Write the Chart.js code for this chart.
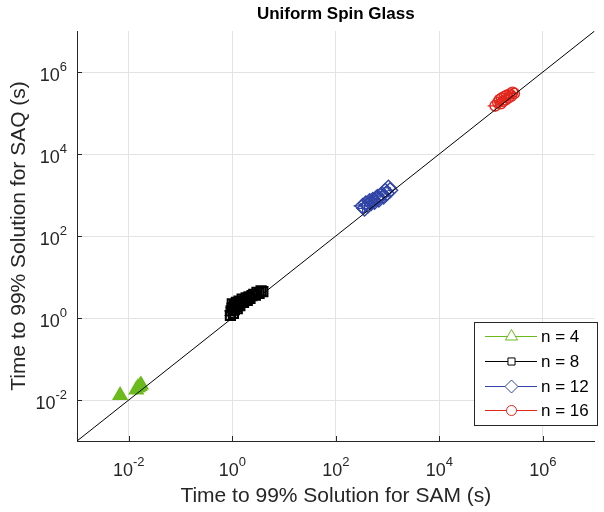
<!DOCTYPE html>
<html>
<head>
<meta charset="utf-8">
<script src="https://cdn.jsdelivr.net/npm/chart.js@4.4.0/dist/chart.umd.min.js"></script>
<style>
  html, body { margin: 0; padding: 0; background: #fff; }
  canvas { display: block; }
</style>
</head>
<body>
<canvas id="chart" width="604" height="512"></canvas>
<script>
const tickValues = [1e-2, 1e0, 1e2, 1e4, 1e6];
const tickExponents = ["-2", "0", "2", "4", "6"];
const seriesLabels = ["n = 4", "n = 8", "n = 12", "n = 16"];
const seriesColors = ["#6cbb1d", "#000000", "#3045a6", "#e3261c"];
const seriesMarkers = ["triangle", "rect", "rectRot", "circle"];
const seriesRadius = [8, 6.5, 7.5, 5.2];
const seriesLineWidth = [1.4, 2, 1.4, 1.4];
const legendRadius = [7, 5, 6.5, 5];

// n = 4
const n4SAM = [0.0068, 0.0140, 0.0150, 0.0162, 0.0172];
const n4SAQ = [0.0130, 0.0178, 0.0200, 0.0215, 0.0235];
const n4ErrSAM = [1.03, 1.03, 1.03, 1.03, 1.03];
const n4ErrSAQ = [1.03, 1.03, 1.03, 1.03, 1.03];

// n = 8
const n8SAM = [0.92, 0.95, 1.0, 1.0, 1.05, 1.1, 1.1, 1.15, 1.2, 1.25, 1.3, 1.35, 1.4, 1.5, 1.55, 1.65, 1.75, 1.85, 1.95, 2.1, 2.2, 2.4, 2.6, 2.8, 3.0, 3.3, 3.6, 3.9];
const n8SAQ = [1.15, 1.5, 1.8, 2.2, 1.3, 1.6, 2.1, 1.9, 2.4, 1.7, 2.2, 2.6, 2.0, 2.5, 2.9, 2.4, 2.8, 3.1, 2.7, 3.3, 3.0, 3.5, 3.8, 3.6, 4.2, 4.0, 4.6, 4.4];
const n8ErrSAM = [1.3, 1.35, 1.35, 1.3, 1.25, 1.2, 1.2, 1.12, 1.1, 1.1, 1.1, 1.08, 1.08, 1.08, 1.06, 1.06, 1.06, 1.06, 1.05, 1.05, 1.05, 1.05, 1.05, 1.05, 1.05, 1.05, 1.05, 1.05];
const n8ErrSAQ = [1.35, 1.1, 1.1, 1.1, 1.1, 1.08, 1.08, 1.08, 1.08, 1.06, 1.06, 1.06, 1.06, 1.06, 1.05, 1.05, 1.05, 1.05, 1.05, 1.05, 1.05, 1.05, 1.05, 1.05, 1.05, 1.05, 1.05, 1.05];

// n = 12
const n12SAM = [330, 360, 380, 420, 450, 480, 520, 560, 600, 640, 680, 720, 780, 840, 900, 960, 1040, 1120];
const n12SAQ = [540, 470, 620, 560, 700, 640, 760, 680, 820, 900, 780, 950, 1050, 920, 1250, 1100, 1500, 1300];
const n12ErrSAM = [1.5, 1.45, 1.3, 1.2, 1.15, 1.15, 1.12, 1.1, 1.1, 1.1, 1.1, 1.12, 1.12, 1.1, 1.12, 1.1, 1.12, 1.12];
const n12ErrSAQ = [1.5, 1.3, 1.2, 1.15, 1.12, 1.15, 1.12, 1.1, 1.1, 1.1, 1.1, 1.12, 1.15, 1.12, 1.1, 1.1, 1.12, 1.12];

// n = 16
const n16SAM = [1.2e5, 1.35e5, 1.45e5, 1.55e5, 1.6e5, 1.7e5, 1.8e5, 1.9e5, 2.0e5, 2.15e5, 2.3e5, 2.45e5, 2.6e5, 2.8e5];
const n16SAQ = [1.5e5, 1.8e5, 2.1e5, 1.7e5, 2.3e5, 1.95e5, 2.5e5, 2.1e5, 2.7e5, 2.35e5, 2.9e5, 2.6e5, 3.2e5, 3.0e5];
const n16ErrSAM = [1.4, 1.2, 1.15, 1.12, 1.1, 1.1, 1.1, 1.1, 1.1, 1.12, 1.12, 1.15, 1.15, 1.12];
const n16ErrSAQ = [1.4, 1.15, 1.12, 1.1, 1.1, 1.1, 1.1, 1.1, 1.1, 1.1, 1.1, 1.1, 1.1, 1.1];

const diagonal = [1e-3, 1e7];

const FONT = "'Liberation Sans', Arial, Helvetica, sans-serif";

function points(xs, ys) {
  return xs.map((x, i) => ({ x: x, y: ys[i] }));
}

function series(i, xs, ys, ex, ey) {
  return {
    label: seriesLabels[i],
    data: points(xs, ys),
    errX: ex,
    errY: ey,
    pointStyle: seriesMarkers[i],
    pointRadius: seriesRadius[i],
    pointHoverRadius: seriesRadius[i],
    pointBorderWidth: seriesLineWidth[i],
    borderColor: seriesColors[i],
    pointBorderColor: seriesColors[i],
    pointBackgroundColor: i === 0 ? seriesColors[0] : "rgba(0,0,0,0)",
    showLine: false
  };
}

const errorBars = {
  id: "errorBars",
  beforeDatasetsDraw(chart) {
    const ctx = chart.ctx;
    const xs = chart.scales.x, ys = chart.scales.y;
    const area = chart.chartArea;
    ctx.save();
    ctx.beginPath();
    ctx.rect(area.left, area.top, area.right - area.left, area.bottom - area.top);
    ctx.clip();
    ctx.lineWidth = 1.2;
    chart.data.datasets.forEach(ds => {
      if (!ds.errX) return;
      ctx.strokeStyle = ds.borderColor;
      ds.data.forEach((p, i) => {
        const px = xs.getPixelForValue(p.x), py = ys.getPixelForValue(p.y);
        const x0 = xs.getPixelForValue(p.x / ds.errX[i]), x1 = xs.getPixelForValue(p.x * ds.errX[i]);
        const y0 = ys.getPixelForValue(p.y / ds.errY[i]), y1 = ys.getPixelForValue(p.y * ds.errY[i]);
        ctx.beginPath();
        ctx.moveTo(x0, py); ctx.lineTo(x1, py);
        ctx.moveTo(px, y0); ctx.lineTo(px, y1);
        ctx.stroke();
      });
    });
    ctx.restore();
  }
};

const decorations = {
  id: "decorations",
  afterDraw(chart) {
    const ctx = chart.ctx;
    const xs = chart.scales.x, ys = chart.scales.y;
    const area = chart.chartArea;
    ctx.save();

    // inward ticks
    ctx.strokeStyle = "#262626";
    ctx.lineWidth = 1;
    ctx.beginPath();
    tickValues.forEach(v => {
      const px = Math.round(xs.getPixelForValue(v)) + 0.5;
      ctx.moveTo(px, area.bottom); ctx.lineTo(px, area.bottom - 5);
      const py = Math.round(ys.getPixelForValue(v)) + 0.5;
      ctx.moveTo(area.left, py); ctx.lineTo(area.left + 5, py);
    });
    ctx.stroke();

    // tick labels
    ctx.fillStyle = "#262626";
    tickValues.forEach((v, i) => {
      const exp = tickExponents[i];
      ctx.font = "18px " + FONT;
      const wBase = ctx.measureText("10").width;
      ctx.font = "13px " + FONT;
      const wExp = ctx.measureText(exp).width;
      // x axis
      const px = xs.getPixelForValue(v);
      const left = px - (wBase + wExp) / 2;
      ctx.textAlign = "left";
      ctx.textBaseline = "alphabetic";
      ctx.font = "18px " + FONT;
      ctx.fillText("10", left, 476);
      ctx.font = "13px " + FONT;
      ctx.fillText(exp, left + wBase, 466);
      // y axis
      const py = ys.getPixelForValue(v);
      const right = 67;
      ctx.font = "18px " + FONT;
      ctx.fillText("10", right - wExp - wBase, py + 9);
      ctx.font = "13px " + FONT;
      ctx.fillText(exp, right - wExp, py - 1);
    });

    // title and axis labels
    ctx.fillStyle = "#000";
    ctx.textAlign = "center";
    ctx.textBaseline = "middle";
    ctx.font = "bold 17px " + FONT;
    ctx.fillText("Uniform Spin Glass", (area.left + area.right) / 2, 14);
    ctx.fillStyle = "#262626";
    ctx.font = "21px " + FONT;
    ctx.fillText("Time to 99% Solution for SAM (s)", (area.left + area.right) / 2, 496);
    ctx.save();
    ctx.translate(19, (area.top + area.bottom) / 2);
    ctx.rotate(-Math.PI / 2);
    ctx.fillText("Time to 99% Solution for SAQ (s)", 0, 0);
    ctx.restore();

    // legend
    const bx = 474.5, by = 322.5, bw = 123, bh = 103;
    ctx.fillStyle = "#fff";
    ctx.fillRect(bx, by, bw, bh);
    ctx.strokeStyle = "#262626";
    ctx.lineWidth = 1;
    ctx.strokeRect(bx, by, bw, bh);
    const rows = [336.5, 361.5, 386.5, 410.5];
    seriesLabels.forEach((lab, i) => {
      const y = rows[i];
      ctx.strokeStyle = seriesColors[i];
      ctx.lineWidth = 1;
      ctx.beginPath();
      ctx.moveTo(485, y); ctx.lineTo(537, y);
      ctx.stroke();
      const opts = {
        pointStyle: seriesMarkers[i],
        radius: legendRadius[i],
        rotation: 0,
        borderWidth: 1,
        borderColor: seriesColors[i],
        backgroundColor: "#fff"
      };
      ctx.fillStyle = "#fff";
      ctx.strokeStyle = seriesColors[i];
      Chart.helpers.drawPoint(ctx, opts, 511.5, y);
      ctx.fillStyle = "#000";
      ctx.textAlign = "left";
      ctx.textBaseline = "middle";
      ctx.font = "17px " + FONT;
      ctx.fillText(lab, 541, y + 1);
    });

    ctx.restore();
  }
};

const ctx = document.getElementById("chart").getContext("2d");
new Chart(ctx, {
  type: "scatter",
  data: {
    datasets: [
      {
        label: "y = x",
        data: points(diagonal, diagonal),
        showLine: true,
        borderColor: "#000",
        borderWidth: 1,
        pointRadius: 0,
        pointHoverRadius: 0
      },
      series(0, n4SAM, n4SAQ, n4ErrSAM, n4ErrSAQ),
      series(1, n8SAM, n8SAQ, n8ErrSAM, n8ErrSAQ),
      series(2, n12SAM, n12SAQ, n12ErrSAM, n12ErrSAQ),
      series(3, n16SAM, n16SAQ, n16ErrSAM, n16ErrSAQ)
    ]
  },
  options: {
    responsive: false,
    animation: false,
    events: [],
    layout: { padding: { top: 31, right: 2, left: 0, bottom: 0 } },
    plugins: {
      legend: { display: false },
      title: { display: false },
      tooltip: { enabled: false }
    },
    scales: {
      x: {
        type: "logarithmic",
        min: 1e-3,
        max: 1e7,
        afterBuildTicks: s => { s.ticks = tickValues.map(v => ({ value: v })); },
        afterFit: s => { s.height = 71; },
        ticks: { callback: () => "" },
        grid: { color: "#e3e3e3", drawTicks: false },
        border: { color: "#262626", width: 1 }
      },
      y: {
        type: "logarithmic",
        min: 1e-3,
        max: 1e7,
        afterBuildTicks: s => { s.ticks = tickValues.map(v => ({ value: v })); },
        afterFit: s => { s.width = 77; },
        ticks: { callback: () => "" },
        grid: { color: "#e3e3e3", drawTicks: false },
        border: { color: "#262626", width: 1 }
      }
    }
  },
  plugins: [errorBars, decorations]
});
</script>
</body>
</html>
